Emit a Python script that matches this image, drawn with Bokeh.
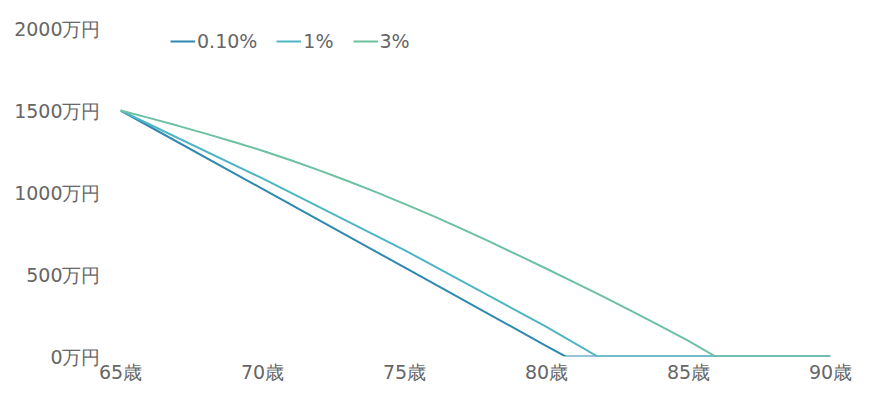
from bokeh.plotting import figure
from bokeh.models import FixedTicker, Legend, LegendItem, Range1d
from bokeh.embed import file_html
from bokeh.resources import INLINE

# ages (years) and balances (万円)
age_01 = [65, 70, 75, 80, 80.67, 90]
bal_01 = [1500, 1022, 543, 64, 0, 0]

age_1 = [65, 70, 75, 80, 81.8, 90]
bal_1 = [1500, 1086, 649, 180, 0, 0]

age_3 = [65, 66, 67, 68, 69, 70, 71, 72, 73, 74, 75, 76, 77, 78, 79, 80,
         81, 82, 83, 84, 85, 85.95, 90]
bal_3 = [1500, 1455, 1408, 1359, 1308, 1255, 1197, 1135, 1070, 1002, 931,
         857, 780, 700, 618, 535, 451, 365, 277, 187, 95, 0, 0]

series_names = ["0.10%", "1%", "3%"]
series_colors = ["#2E88B0", "#4DB5C3", "#6DC0A0"]

x_ticks = [65, 70, 75, 80, 85, 90]
x_labels = {65: "65歳", 70: "70歳", 75: "75歳", 80: "80歳", 85: "85歳", 90: "90歳"}
y_ticks = [0, 500, 1000, 1500, 2000]
y_labels = {0: "0万円", 500: "500万円", 1000: "1000万円", 1500: "1500万円", 2000: "2000万円"}

FONT = "DejaVu Sans"
TXT = "#666666"
FS = "19px"

p = figure(width=854, height=385, output_backend="svg", toolbar_location=None,
           x_range=Range1d(65, 90), y_range=Range1d(0, 2000),
           min_border_left=120, min_border_right=24,
           min_border_top=28, min_border_bottom=29)
p.outline_line_color = None
p.background_fill_color = "white"
p.border_fill_color = "white"

renderers = []
for xs, ys, c in zip([age_01, age_1, age_3], [bal_01, bal_1, bal_3], series_colors):
    r = p.line(xs, ys, line_color=c, line_width=2)
    renderers.append(r)

# axes
for ax in (p.xaxis[0], p.yaxis[0]):
    ax.axis_line_color = None
    ax.major_tick_line_color = None
    ax.minor_tick_line_color = None
    ax.major_tick_out = 0
    ax.major_tick_in = 0
    ax.minor_tick_out = 0
    ax.minor_tick_in = 0
    ax.major_label_text_font = FONT
    ax.major_label_text_font_size = FS
    ax.major_label_text_color = TXT
    ax.major_label_text_line_height = 1.0

p.xaxis[0].ticker = FixedTicker(ticks=x_ticks)
p.xaxis[0].major_label_overrides = x_labels
p.xaxis[0].major_label_standoff = 4
p.yaxis[0].ticker = FixedTicker(ticks=y_ticks)
p.yaxis[0].major_label_overrides = y_labels
p.yaxis[0].major_label_standoff = 20

p.xgrid.grid_line_color = None
p.ygrid.ticker = FixedTicker(ticks=[0])
p.ygrid.grid_line_color = "#D9D9D9"
p.ygrid.grid_line_width = 1

items = [LegendItem(label=n, renderers=[r]) for n, r in zip(series_names, renderers)]
legend = Legend(items=items, orientation="horizontal", location=(50, 304),
                padding=0, margin=0, spacing=19, label_standoff=2,
                glyph_width=25, glyph_height=20, label_height=20,
                label_text_font=FONT, label_text_font_size=FS,
                label_text_color=TXT, background_fill_alpha=0,
                border_line_color=None)
p.add_layout(legend, "center")

open("out.html", "w").write(file_html(p, INLINE))
